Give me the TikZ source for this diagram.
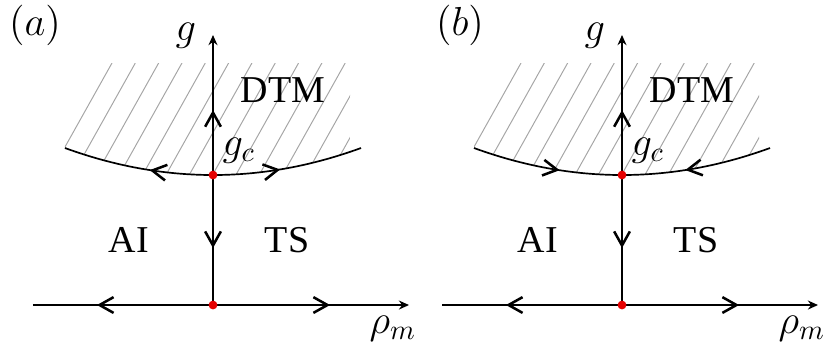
\documentclass[tikz,border=0pt]{standalone}
\usepackage{amsmath,amssymb}
\usepackage{fontspec}
\setmainfont{Liberation Serif}
\usetikzlibrary{arrows.meta}
\usetikzlibrary{decorations.markings}

\tikzset{barbtip/.tip={Straight Barb[length=5pt,width=5.6pt,line width=0.9pt]}}

\begin{document}
\begin{tikzpicture}[scale=0.5,
  axis/.style={line width=0.6pt,-{Stealth[length=3.6pt,width=3.2pt]}},
  fwd/.style={postaction={decorate,decoration={markings,mark=at position #1 with {\arrow{barbtip}}}}},
  bwd/.style={postaction={decorate,decoration={markings,mark=at position #1 with {\arrowreversed{barbtip}}}}},
  hatch/.style={gray!70,line width=0.35pt},
  reddot/.style={fill=red!90!black,draw=none},
  every node/.style={font=\fontsize{13.5}{16}\selectfont},
  mathlab/.style={font=\fontsize{14.4}{17}\selectfont}]

\useasboundingbox (-5.325,-0.95) rectangle (15.425,7.625);

\begin{scope}
\coordinate (o) at (0,0); \coordinate (gtop) at (0,6.75); \coordinate (c) at (0,3.25);
\coordinate (xl) at (-4.5,0); \coordinate (xr) at (4.9,0);
\coordinate (cl) at (-3.7,3.925); \coordinate (cr) at (3.7,3.925);
\begin{scope}
\clip plot[domain=-3.7:3.425,samples=50] (\x,{3.25+0.0493*\x*\x}) -- (3.425,6.05) -- (-3.7,6.05) -- cycle;
\foreach \t in {0,1,...,12} \draw[hatch] (-2.525+\t*0.583,6.05) -- ++(-1.68,-3);
\end{scope}
\draw[line width=0.6pt,bwd=0.290,fwd=0.723] (cl) .. controls (-1.2333,3.025) and (1.2333,3.025) .. (cr);
\draw[axis,bwd=0.170,fwd=0.790] (xl) -- (xr);
\draw[axis,bwd=0.211,fwd=0.722] (o) -- (gtop);
\fill[reddot] (o) circle (0.11) (c) circle (0.11);
\node[mathlab] (tag) at (-4.45,7.0) {$(a)$};
\node[mathlab] (g) at (-0.68,6.72) {$g$};
\node (dtm) at (1.75,5.375) {DTM};
\node[mathlab] (gc) at (0.65,3.85) {$g_c$};
\node (ai) at (-2.1,1.625) {AI};
\node (ts) at (1.85,1.625) {TS};
\node[mathlab] (rho) at (4.5,-0.6) {$\rho_m$};
\end{scope}

\begin{scope}[xshift=10.225cm]
\coordinate (o) at (0,0); \coordinate (gtop) at (0,6.75); \coordinate (c) at (0,3.25);
\coordinate (xl) at (-4.5,0); \coordinate (xr) at (4.9,0);
\coordinate (cl) at (-3.7,3.925); \coordinate (cr) at (3.7,3.925);
\begin{scope}
\clip plot[domain=-3.7:3.425,samples=50] (\x,{3.25+0.0493*\x*\x}) -- (3.425,6.05) -- (-3.7,6.05) -- cycle;
\foreach \t in {0,1,...,12} \draw[hatch] (-2.525+\t*0.583,6.05) -- ++(-1.68,-3);
\end{scope}
\draw[line width=0.6pt,fwd=0.293,bwd=0.710] (cl) .. controls (-1.2333,3.025) and (1.2333,3.025) .. (cr);
\draw[axis,bwd=0.170,fwd=0.790] (xl) -- (xr);
\draw[axis,bwd=0.211,fwd=0.722] (o) -- (gtop);
\fill[reddot] (o) circle (0.11) (c) circle (0.11);
\node[mathlab] (tag) at (-4.05,7.0) {$(b)$};
\node[mathlab] (g) at (-0.68,6.72) {$g$};
\node (dtm) at (1.75,5.375) {DTM};
\node[mathlab] (gc) at (0.65,3.85) {$g_c$};
\node (ai) at (-2.1,1.625) {AI};
\node (ts) at (1.85,1.625) {TS};
\node[mathlab] (rho) at (4.5,-0.6) {$\rho_m$};
\end{scope}

\end{tikzpicture}
\end{document}
